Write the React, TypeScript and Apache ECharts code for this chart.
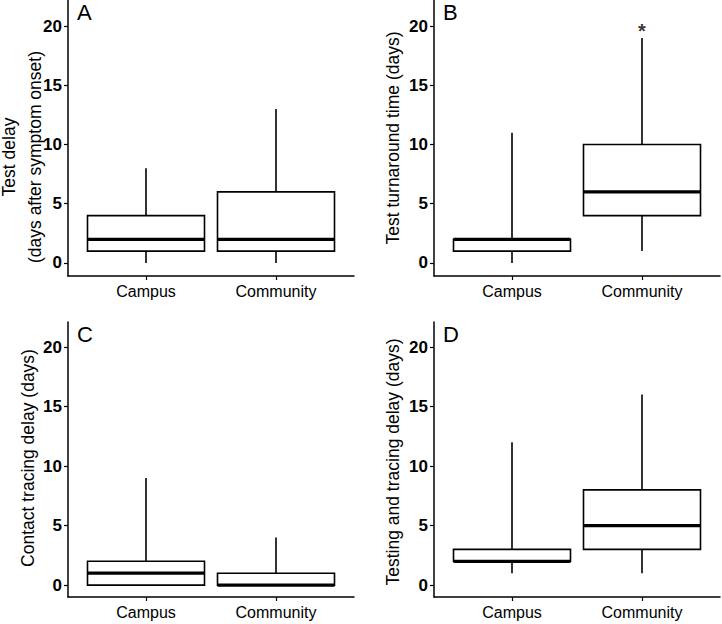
import React, { useEffect, useRef } from "react";
import * as echarts from "echarts";

const categories = ["Campus", "Community"];
const yTicks = [0, 5, 10, 15, 20];
// each box: [lower whisker, Q1, median, Q3, upper whisker]
const testDelay = [
  [0, 1, 2, 4, 8],
  [0, 1, 2, 6, 13],
];
const turnaroundTime = [
  [0, 1, 2, 2, 11],
  [1, 4, 6, 10, 19],
];
const tracingDelay = [
  [0, 0, 1, 2, 9],
  [0, 0, 0, 1, 4],
];
const testingTracingDelay = [
  [1, 2, 2, 3, 12],
  [1, 3, 5, 8, 16],
];
// outliers: [category index, value]
const turnaroundOutliers = [[1, 20]];

const panelLetters = ["A", "B", "C", "D"];
const panelTitles = [
  ["Test delay", "(days after symptom onset)"],
  ["Test turnaround time (days)"],
  ["Contact tracing delay (days)"],
  ["Testing and tracing delay (days)"],
];
const panelData = [testDelay, turnaroundTime, tracingDelay, testingTracingDelay];
const panelOutliers = [[], turnaroundOutliers, [], []];

const FONT = "Liberation Sans, Arial, Helvetica, sans-serif";

const grids = [
  { left: 68, top: 0, width: 286, height: 276 },
  { left: 434, top: 0, width: 286, height: 276 },
  { left: 68, top: 322, width: 286, height: 275 },
  { left: 434, top: 322, width: 286, height: 275 },
];
const yRanges = [
  [-1.1, 22.2],
  [-1.1, 22.2],
  [-1.0, 22.1],
  [-1.0, 22.1],
];

const renderBox = (params: any, api: any) => {
  const x = api.value(0);
  const lo = api.value(1);
  const q1 = api.value(2);
  const med = api.value(3);
  const q3 = api.value(4);
  const hi = api.value(5);
  const half = 0.45;
  const cHi = api.coord([x, hi]);
  const cQ3 = api.coord([x, q3]);
  const cQ1 = api.coord([x, q1]);
  const cLo = api.coord([x, lo]);
  const tl = api.coord([x - half, q3]);
  const br = api.coord([x + half, q1]);
  const ml = api.coord([x - half, med]);
  const mr = api.coord([x + half, med]);
  const lineStyle = { stroke: "#000", lineWidth: 1.6, fill: null };
  return {
    type: "group",
    children: [
      { type: "line", shape: { x1: cHi[0], y1: cHi[1], x2: cQ3[0], y2: cQ3[1] }, style: lineStyle },
      { type: "line", shape: { x1: cQ1[0], y1: cQ1[1], x2: cLo[0], y2: cLo[1] }, style: lineStyle },
      {
        type: "rect",
        shape: { x: tl[0], y: tl[1], width: br[0] - tl[0], height: br[1] - tl[1] },
        style: { fill: "#fff", stroke: "#000", lineWidth: 1.6 },
      },
      { type: "line", shape: { x1: ml[0], y1: ml[1], x2: mr[0], y2: mr[1] }, style: { stroke: "#000", lineWidth: 3.2 } },
    ],
  };
};

export default function App() {
  const ref = useRef<HTMLDivElement>(null);
  useEffect(() => {
    if (!ref.current) return;
    const chart = echarts.init(ref.current, undefined, { renderer: "svg" });
    const xAxis: any[] = [];
    const yAxis: any[] = [];
    const series: any[] = [];
    const graphic: any[] = [];
    grids.forEach((g, i) => {
      xAxis.push({
        type: "value",
        gridIndex: i,
        min: 0.4,
        max: 2.6,
        axisLine: { show: true, onZero: false, lineStyle: { color: "#000", width: 1.5 } },
        axisTick: { show: true, customValues: [1, 2], length: 4, lineStyle: { color: "#000", width: 1.2 } },
        axisLabel: {
          show: true,
          customValues: [1, 2],
          formatter: (v: number) => categories[Math.round(v) - 1] || "",
          color: "#000",
          fontSize: 16,
          fontFamily: FONT,
          margin: 7,
        },
        splitLine: { show: false },
      });
      yAxis.push({
        type: "value",
        gridIndex: i,
        min: yRanges[i][0],
        max: yRanges[i][1],
        axisLine: { show: true, onZero: false, lineStyle: { color: "#000", width: 1.5 } },
        axisTick: { show: true, customValues: yTicks, length: 4, lineStyle: { color: "#000", width: 1.2 } },
        axisLabel: {
          show: true,
          customValues: yTicks,
          color: "#000",
          fontSize: 17,
          fontWeight: "bold",
          fontFamily: FONT,
          margin: 6,
        },
        splitLine: { show: false },
      });
      series.push({
        type: "custom",
        xAxisIndex: i,
        yAxisIndex: i,
        renderItem: renderBox,
        encode: { x: 0, y: [1, 2, 3, 4, 5] },
        data: panelData[i].map((b, k) => [k + 1, ...b]),
        silent: true,
      });
      if (panelOutliers[i].length) {
        series.push({
          type: "scatter",
          xAxisIndex: i,
          yAxisIndex: i,
          symbolSize: 0,
          data: panelOutliers[i].map((o) => [o[0] + 1, o[1]]),
          label: {
            show: true,
            formatter: "*",
            position: "inside",
            color: "#000",
            fontSize: 20,
            fontWeight: "bold",
            fontFamily: FONT,
            offset: [0, 5],
          },
          silent: true,
        });
      }
      graphic.push({
        type: "text",
        left: g.left + 9,
        top: g.top + 1,
        style: { text: panelLetters[i], fontSize: 22, fontFamily: FONT, fill: "#000" },
      });
    });
    const titlePos = [
      [[9, 157], [35, 157]],
      [[393, 138]],
      [[28, 458]],
      [[393, 462]],
    ];
    panelTitles.forEach((lines, i) => {
      lines.forEach((t, j) => {
        graphic.push({
          type: "text",
          x: titlePos[i][j][0],
          y: titlePos[i][j][1],
          rotation: Math.PI / 2,
          style: {
            text: t,
            fontSize: 17.5,
            fontFamily: FONT,
            fill: "#000",
            textAlign: "center",
            textVerticalAlign: "middle",
          },
        });
      });
    });
    chart.setOption({
      animation: false,
      backgroundColor: "#fff",
      grid: grids.map((g) => ({ ...g, containLabel: false })),
      xAxis,
      yAxis,
      series,
      graphic,
    });
    return () => chart.dispose();
  }, []);
  return (
    <div
      ref={ref}
      style={{ position: "absolute", left: 0, top: 0, width: 722, height: 624 }}
    />
  );
}
